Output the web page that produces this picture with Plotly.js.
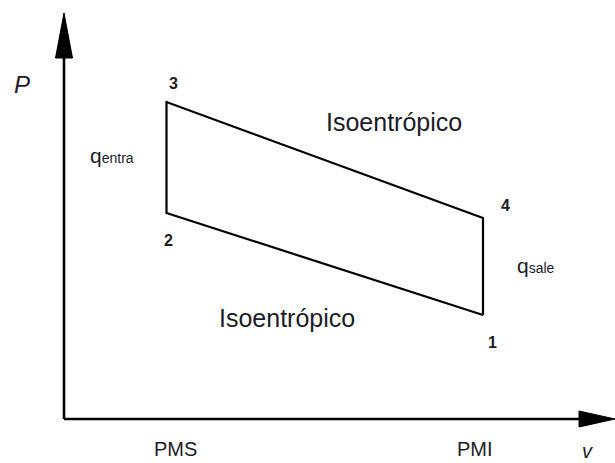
<!DOCTYPE html>
<html>
<head>
<meta charset="utf-8">
<script src="https://cdn.plot.ly/plotly-3.0.1.min.js"></script>
<style>html,body{margin:0;padding:0;background:#fff;}#chart{width:615px;height:463px;}</style>
</head>
<body>
<div id="chart"></div>
<script>
// Otto cycle states (order 1 -> 2 -> 3 -> 4)
const states = ['1', '2', '3', '4'];
const volume = [4.19, 1.025, 1.025, 4.19];   // v
const pressure = [1.04, 2.06, 3.17, 2.01];   // P
const volumeTickLabels = ['PMS', 'PMI'];
const processLabels = ['Isoentrópico', 'Isoentrópico'];
const heatLabels = ['entra', 'sale'];

const cycleX = volume.concat([volume[0]]);
const cycleY = pressure.concat([pressure[0]]);

const FONT = 'Liberation Sans, Arial, sans-serif';
const TXT = '#1c1c28';

const xMax = 5.51, yMax = 4.06;

const trace = {
  x: cycleX, y: cycleY, type: 'scatter', mode: 'lines',
  line: {color: '#000', width: 2.2}, hoverinfo: 'skip', showlegend: false
};

const shapes = [
  {type: 'line', xref: 'x', yref: 'y', x0: 0, y0: 0, x1: xMax - 0.3, y1: 0, line: {color: '#000', width: 2.6}},
  {type: 'line', xref: 'x', yref: 'y', x0: 0, y0: 0, x1: 0, y1: yMax - 0.3, line: {color: '#000', width: 2.6}},
  {type: 'path', xref: 'x', yref: 'y', path: `M ${xMax} 0 L ${xMax - 0.36} 0.08 L ${xMax - 0.36} -0.08 Z`, fillcolor: '#000', line: {color: '#000', width: 1}},
  {type: 'path', xref: 'x', yref: 'y', path: `M 0 ${yMax} L 0.085 ${yMax - 0.45} L -0.085 ${yMax - 0.45} Z`, fillcolor: '#000', line: {color: '#000', width: 1}}
];

function ann(x, y, text, size, extra) {
  return Object.assign({x: x, y: y, xref: 'x', yref: 'y', text: text, showarrow: false,
    xanchor: 'center', yanchor: 'middle', font: {family: FONT, size: size, color: TXT}}, extra || {});
}

const annotations = [
  ann(-0.42, 3.35, '<i>P</i>', 24),
  ann(5.23, -0.32, '<i>v</i>', 20),
  ann(volume[1] + 0.085, -0.30, volumeTickLabels[0], 20),
  ann(volume[0] - 0.08, -0.30, volumeTickLabels[1], 20),
  ann(volume[2] + 0.065, pressure[2] + 0.19, '<b>' + states[2] + '</b>', 16),
  ann(volume[1] + 0.015, pressure[1] - 0.27, '<b>' + states[1] + '</b>', 16),
  ann(volume[3] + 0.22, pressure[3] + 0.13, '<b>' + states[3] + '</b>', 16),
  ann(volume[0] + 0.09, pressure[0] - 0.27, '<b>' + states[0] + '</b>', 16),
  ann(0.48, 2.64, 'q<span style="font-size:14px">' + heatLabels[0] + '</span>', 21),
  ann(4.72, 1.54, 'q<span style="font-size:14px">' + heatLabels[1] + '</span>', 21),
  ann(3.30, 2.97, processLabels[0], 25),
  ann(2.23, 1.01, processLabels[1], 25)
];

const layout = {
  width: 615, height: 463,
  margin: {l: 0, r: 0, t: 0, b: 0},
  paper_bgcolor: '#fff', plot_bgcolor: '#fff',
  xaxis: {range: [-0.64, 5.51], visible: false, fixedrange: true},
  yaxis: {range: [-0.44, 4.19], visible: false, fixedrange: true},
  shapes: shapes, annotations: annotations, showlegend: false
};

Plotly.newPlot('chart', [trace], layout, {displayModeBar: false, staticPlot: true});
</script>
</body>
</html>
